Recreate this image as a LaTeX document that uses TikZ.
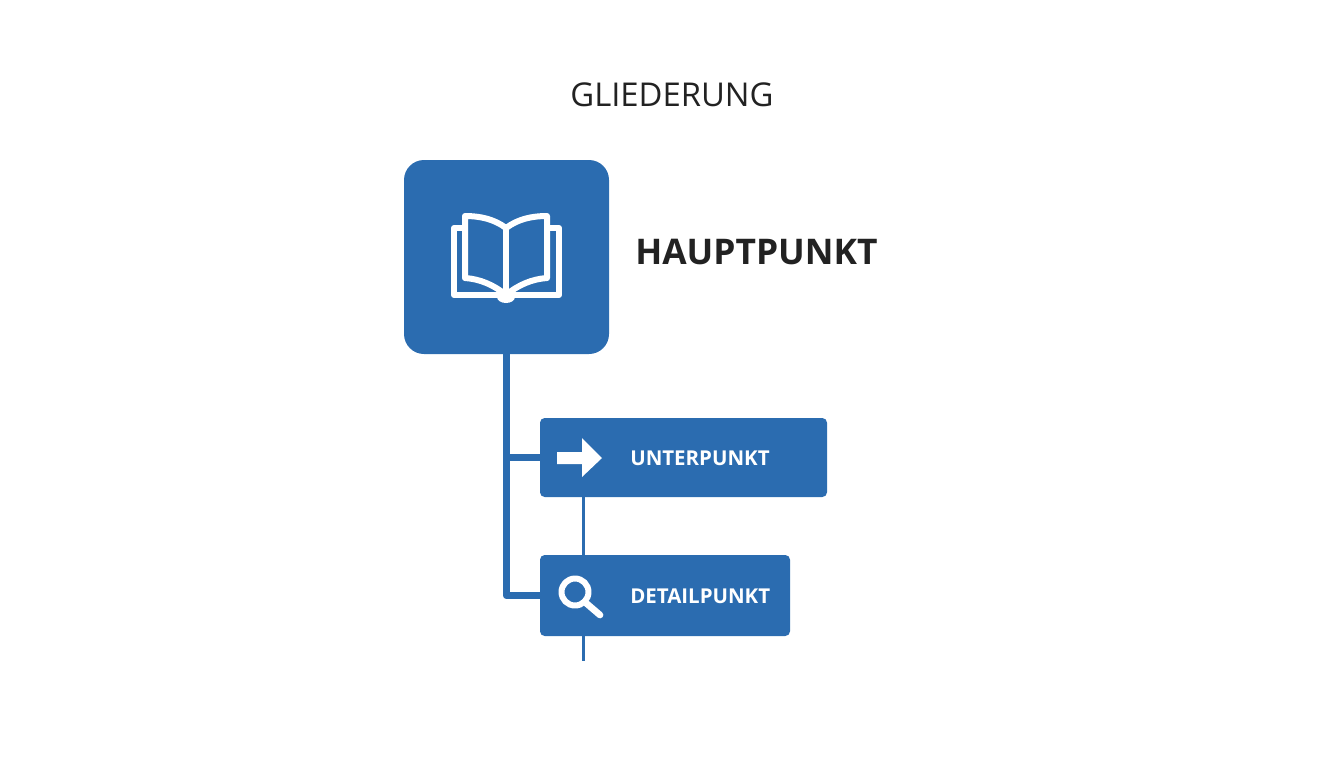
\documentclass[tikz,border=0pt]{standalone}
\usepackage{fontspec}
\setmainfont{Open Sans}
\usetikzlibrary{positioning}

\definecolor{boxblue}{HTML}{2B6CB0}
\definecolor{inkdark}{HTML}{222222}

\begin{document}
\begin{tikzpicture}[x=0.75pt,y=-0.75pt,
	                    line join=round]
	  \tikzstyle{mainbox}=[fill=boxblue,rounded corners=15pt,inner sep=0pt,minimum width=153.75pt,minimum height=145.5pt]
	  \tikzstyle{subbox}=[fill=boxblue,rounded corners=3.5pt,inner sep=0pt]
	  \tikzstyle{sublabel}=[text=white,font=\bfseries\fontsize{15.35}{18}\selectfont,inner sep=0pt,anchor=west]
	  \tikzstyle{trunk}=[draw=boxblue,line width=5.5pt]
	  \tikzstyle{branch}=[draw=boxblue,line width=2.25pt]
	  \tikzstyle{icon}=[draw=white,line width=4.5pt]

	  \useasboundingbox (0,0) rectangle (1344,768);

	  \node (title) at (672,95) [text=inkdark,inner sep=0pt,font=\fontsize{24.6}{28}\selectfont] {GLIEDERUNG};

	  \node[mainbox] (main) at (506.5,257) {};
	  \node (head) at (635,252) [anchor=west,text=inkdark,inner sep=0pt,font=\bfseries\fontsize{26.5}{30}\selectfont] {HAUPTPUNKT};

	  \node[subbox,minimum width=215.25pt,minimum height=59.25pt] (unter) at (683.5,457.5) {};
	  \node[subbox,minimum width=187.5pt,minimum height=60.75pt] (detail) at (665,595.5) {};
	  \node[sublabel] (unterlabel) at (630,458) {UNTERPUNKT};
	  \node[sublabel] (detaillabel) at (630,596) {DETAILPUNKT};

	  \coordinate (thin) at (583,0);
	  \coordinate (tail) at (583,661);

	  \path[trunk] (main.south) |- (unter.west);
	  \path[trunk] (main.south) |- (detail.west);
	  \path[branch] (unter.south -| thin) -- (detail.north -| thin);
	  \path[branch] (detail.south -| thin) -- (tail);

	  % book
	  \draw[icon] (465,228) -- (454,228) -- (454,295) -- (559,295) -- (559,228) -- (548,228);
	  \draw[icon] (506,228) .. controls (494,219) and (480,216) .. (465,216) -- (465,278)
	        .. controls (480,279) and (494,285) .. (506,295)
	        .. controls (518,285) and (532,279) .. (547,278) -- (547,216)
	        .. controls (532,216) and (518,219) .. (506,228) -- cycle;
	  \draw[icon] (506,228) -- (506,295);
	  \fill[white] (506,297) ellipse (9 and 6);

	  % arrow
	  \fill[white] (557,452) -- (582,452) -- (582,438) -- (602,458) -- (582,477) -- (582,464) -- (557,464) -- cycle;

	  % lens
	  \draw[icon] (575,592) circle (13.5);
	  \draw[icon,line width=5pt,line cap=round] (586,603) -- (600,615);
	\end{tikzpicture}
\end{document}
